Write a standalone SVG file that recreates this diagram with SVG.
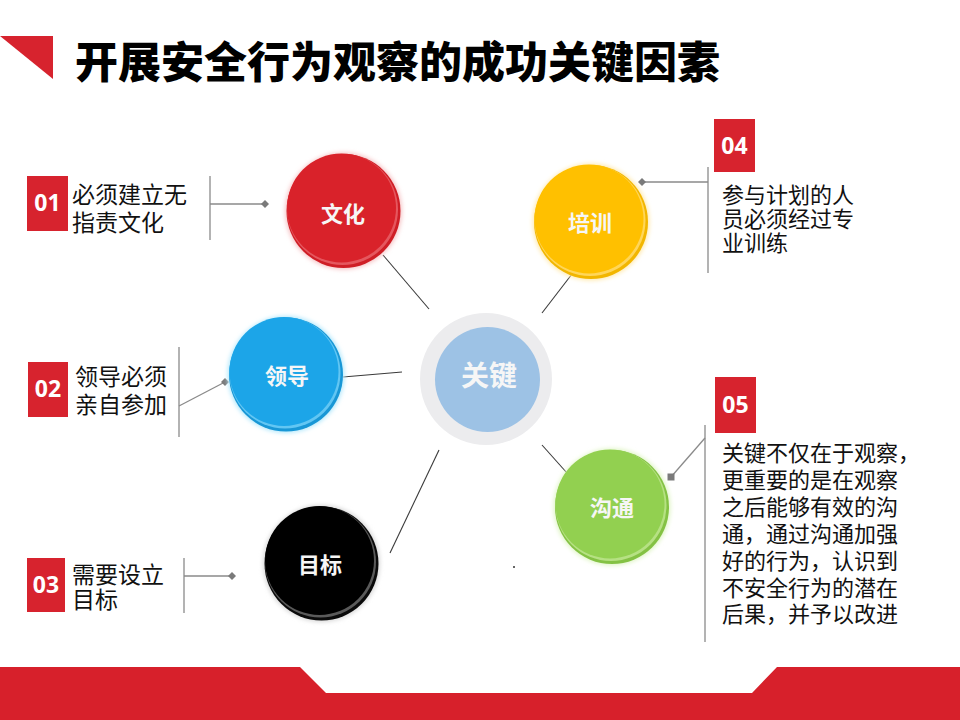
<svg xmlns="http://www.w3.org/2000/svg" width="960" height="720" viewBox="0 0 960 720">
<style>
.conn{stroke:#3a3a3a;stroke-width:1.1;fill:none}
.lead{stroke:#8a8a8a;stroke-width:1.3;fill:none}
.vbar{stroke:#9a9a9a;stroke-width:1.5;fill:none}
.dia{fill:#7a7a7a}
.box{fill:#D7232E}
.num{font-family:"Open Sans","Liberation Sans",sans-serif;font-weight:700;font-size:23px;fill:#fff;text-anchor:middle}
.lbl{font-family:"Noto Sans CJK SC",sans-serif;font-size:23px;fill:#111}
.lbl2{font-family:"Noto Sans CJK SC",sans-serif;font-size:22px;fill:#111}
.ctext{font-family:"Noto Sans CJK SC",sans-serif;font-weight:700;font-size:22px;fill:#f6f6f6;text-anchor:middle}
.title{font-family:"Noto Sans CJK SC",sans-serif;font-weight:900;font-size:43px;fill:#000}
</style>
<defs>
<filter id="glow" x="-30%" y="-30%" width="160%" height="160%">
<feGaussianBlur stdDeviation="2"/>
</filter>
</defs>
<rect width="960" height="720" fill="#fff"/>

<g id="header">
<polygon points="0,36 53,36 53,79" fill="#D7232E"/>
<text class="title" x="75" y="78">开展安全行为观察的成功关键因素</text>
</g>

<g id="connectors">
<line class="conn" x1="383" y1="255" x2="429" y2="309"/>
<line class="conn" x1="572" y1="274" x2="542" y2="313"/>
<line class="conn" x1="343" y1="377" x2="402" y2="372"/>
<line class="conn" x1="390" y1="553" x2="439" y2="450"/>
<line class="conn" x1="542" y1="445" x2="567" y2="473"/>
<line class="vbar" x1="210" y1="176" x2="210" y2="240"/>
<line class="lead" x1="210" y1="204" x2="265" y2="204"/>
<path class="dia" d="M265,200 L269,204 L265,208 L261,204 Z"/>
<line class="vbar" x1="179" y1="347" x2="179" y2="437"/>
<line class="lead" x1="179" y1="406" x2="225" y2="382"/>
<path class="dia" d="M225,378 L229,382 L225,386 L221,382 Z"/>
<line class="vbar" x1="184" y1="558" x2="184" y2="613"/>
<line class="lead" x1="184" y1="576" x2="232" y2="576"/>
<path class="dia" d="M232,572 L236,576 L232,580 L228,576 Z"/>
<line class="vbar" x1="708" y1="167" x2="708" y2="273"/>
<line class="lead" x1="708" y1="182" x2="642" y2="182"/>
<path class="dia" d="M642,178 L646,182 L642,186 L638,182 Z"/>
<line class="vbar" x1="705" y1="425" x2="705" y2="642"/>
<line class="lead" x1="705" y1="438" x2="671" y2="477"/>
<rect class="dia" x="667.5" y="473.5" width="7" height="7"/>
<circle cx="514" cy="567" r="1" fill="#333"/>
</g>

<g id="node-wenhua">
<circle cx="343.5" cy="211" r="58.5" fill="#f6c4c6" filter="url(#glow)"/>
<circle cx="343.5" cy="211" r="57" fill="#cf1e26"/>
<circle cx="342.5" cy="209.5" r="55.5" fill="#e5575e"/>
<circle cx="341.5" cy="208" r="54.5" fill="#D9222A"/>
<text class="ctext" x="343" y="222">文化</text>
</g>

<g id="node-peixun">
<circle cx="591" cy="222" r="58.5" fill="#ffeab0" filter="url(#glow)"/>
<circle cx="591" cy="222" r="57" fill="#f2b600"/>
<circle cx="590" cy="220.5" r="55.5" fill="#ffd65a"/>
<circle cx="589" cy="219" r="54.5" fill="#FFC000"/>
<text class="ctext" x="590" y="231">培训</text>
</g>

<g id="node-lingdao">
<circle cx="286" cy="374.5" r="58.5" fill="#b5e9fc" filter="url(#glow)"/>
<circle cx="286" cy="374.5" r="57" fill="#1897d6"/>
<circle cx="285" cy="373" r="55.5" fill="#62c6f3"/>
<circle cx="284" cy="371.5" r="54.5" fill="#1CA5E8"/>
<text class="ctext" x="287" y="384">领导</text>
</g>

<g id="node-guanjian">
<circle cx="486" cy="379" r="66" fill="#ececee"/>
<circle cx="487.5" cy="379.5" r="52.5" fill="#9DC2E5"/>
<text class="ctext" x="489" y="386" style="font-size:28px">关键</text>
</g>

<g id="node-goutong">
<circle cx="612" cy="507" r="58.5" fill="#e0f5c6" filter="url(#glow)"/>
<circle cx="612" cy="507" r="57" fill="#84c244"/>
<circle cx="611" cy="505.5" r="55.5" fill="#b6e183"/>
<circle cx="610" cy="504" r="54.5" fill="#92D050"/>
<text class="ctext" x="612" y="516">沟通</text>
</g>

<g id="node-mubiao">
<circle cx="321.5" cy="563.5" r="58.5" fill="#d8d8d8" filter="url(#glow)"/>
<circle cx="321.5" cy="563.5" r="57" fill="#0a0a0a"/>
<circle cx="320.5" cy="562" r="55.5" fill="#5a5a5a"/>
<circle cx="319.5" cy="560.5" r="54.5" fill="#000"/>
<text class="ctext" x="320" y="573">目标</text>
</g>

<g id="label-01">
<rect class="box" x="27" y="176" width="41" height="55"/>
<text class="num" x="47.5" y="211">01</text>
<text class="lbl" x="72" y="203"><tspan x="72" y="203">必须建立无</tspan><tspan x="72" y="231">指责文化</tspan></text>
</g>

<g id="label-02">
<rect class="box" x="28" y="362" width="40" height="55"/>
<text class="num" x="48" y="397">02</text>
<text class="lbl" x="75" y="385"><tspan x="75" y="385">领导必须</tspan><tspan x="75" y="413">亲自参加</tspan></text>
</g>

<g id="label-03">
<rect class="box" x="27" y="558" width="38" height="54"/>
<text class="num" x="46" y="593">03</text>
<text class="lbl" x="72" y="583"><tspan x="72" y="583">需要设立</tspan><tspan x="72" y="608">目标</tspan></text>
</g>

<g id="label-04">
<rect class="box" x="714" y="119" width="41" height="53"/>
<text class="num" x="734.5" y="154">04</text>
<text class="lbl2" x="722" y="202.5"><tspan x="722" y="202.5">参与计划的人</tspan><tspan x="722" y="226.5">员必须经过专</tspan><tspan x="722" y="250.5">业训练</tspan></text>
</g>

<g id="label-05">
<rect class="box" x="715" y="377" width="41" height="56"/>
<text class="num" x="735.5" y="413">05</text>
<text class="lbl2" x="722" y="461"><tspan x="722" y="461">关键不仅在于观察，</tspan><tspan x="722" y="488">更重要的是在观察</tspan><tspan x="722" y="515">之后能够有效的沟</tspan><tspan x="722" y="542">通，通过沟通加强</tspan><tspan x="722" y="569">好的行为，认识到</tspan><tspan x="722" y="596">不安全行为的潜在</tspan><tspan x="722" y="622">后果，并予以改进</tspan></text>
</g>

<g id="footer">
<polygon points="0,667 300,667 326,693 752,693 777,667 960,667 960,720 0,720" fill="#D7202B"/>
</g>
</svg>
